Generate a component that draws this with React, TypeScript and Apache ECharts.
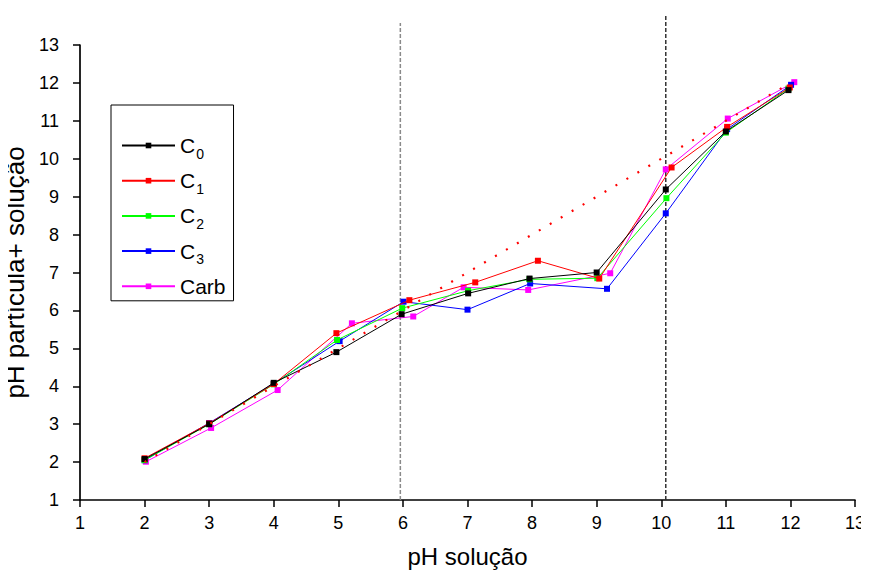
import React, { useEffect, useRef } from "react";
import * as echarts from "echarts";

const xC0 = [2, 3, 4, 4.97, 5.98, 7.01, 7.96, 9.0, 10.07, 11.0, 11.97];
const yC0 = [2.08, 3.0, 4.09, 4.9, 5.9, 6.45, 6.84, 7.0, 9.19, 10.72, 11.81];
const xC1 = [2, 3, 4, 4.97, 6.1, 7.12, 8.09, 9.04, 10.16, 11.02, 11.99];
const yC1 = [2.1, 3.02, 4.06, 5.4, 6.27, 6.74, 7.31, 6.84, 9.77, 10.84, 11.88];
const xC2 = [2, 3, 4, 4.98, 5.99, 7.01, 7.96, 9.01, 10.08, 11.0, 11.97];
const yC2 = [2.05, 3.0, 4.05, 5.22, 6.06, 6.52, 6.82, 6.85, 8.96, 10.69, 11.85];
const xC3 = [2, 3, 4, 5.02, 6.01, 7.0, 7.97, 9.16, 10.07, 11.02, 12.01];
const yC3 = [2.05, 3.03, 4.07, 5.19, 6.23, 6.02, 6.71, 6.57, 8.56, 10.78, 11.95];
const xCarb = [2.02, 3.03, 4.06, 5.21, 6.16, 6.94, 7.94, 9.21, 10.07, 11.03, 12.06];
const yCarb = [2.01, 2.9, 3.9, 5.66, 5.84, 6.61, 6.54, 6.98, 9.72, 11.06, 12.02];

const seriesNames = ["C0", "C1", "C2", "C3", "Carb"];
const seriesColors = ["#000000", "#ff0000", "#00ff00", "#0000ff", "#ff00ff"];
const seriesX = [xC0, xC1, xC2, xC3, xCarb];
const seriesY = [yC0, yC1, yC2, yC3, yCarb];

const identityLine = [
  [2, 2],
  [12, 12],
];

const refLineX = [5.96, 10.07];
const refLineTop = [13.58, 13.77];
const refLineColors = ["#8a8a8a", "#333333"];

const xTicks = { min: 1, max: 13, interval: 1 };
const yTicks = { min: 1, max: 13, interval: 1 };

const FONT = "Liberation Sans, Arial, sans-serif";

export default function App() {
  const ref = useRef<HTMLDivElement>(null);
  useEffect(() => {
    if (!ref.current) return;
    const chart = echarts.init(ref.current, undefined, { renderer: "svg" });
    const series: any[] = seriesNames.map((name, i) => ({
      name,
      type: "line",
      data: seriesX[i].map((x, j) => [x, seriesY[i][j]]),
      symbol: "rect",
      symbolSize: 6,
      color: seriesColors[i],
      lineStyle: { width: 1, color: seriesColors[i] },
      itemStyle: { color: seriesColors[i] },
      z: 3 + (4 - i),
    }));
    series.push({
      name: "identity",
      type: "line",
      data: identityLine,
      symbol: "none",
      lineStyle: { width: 2.2, color: "#ff0000", type: [2, 10.7] },
      z: 10,
    });
    chart.setOption({
      animation: false,
      backgroundColor: "#ffffff",
      grid: { left: 80, right: 14, top: 45, bottom: 71, containLabel: false, outerBoundsMode: "none" },
      legend: {
        data: seriesNames,
        orient: "vertical",
        left: 111,
        top: 105,
        itemWidth: 53,
        itemHeight: 7,
        itemGap: 9.7,
        padding: [30, 8, 4, 10],
        borderColor: "#000",
        borderWidth: 1,
        backgroundColor: "#fff",
        formatter: (name: string) =>
          name === "Carb" ? "{m|Carb}" : `{m|C}{s|${name.slice(1)}}`,
        textStyle: {
          fontFamily: FONT,
          color: "#000",
          rich: {
            m: { fontSize: 21, fontFamily: FONT, color: "#000", lineHeight: 26, verticalAlign: "middle" },
            s: { fontSize: 14, fontFamily: FONT, color: "#000", lineHeight: 26, verticalAlign: "bottom", padding: [0, 0, -2, 1] },
          },
        },
      },
      xAxis: {
        type: "value",
        ...xTicks,
        name: "pH solução",
        nameLocation: "middle",
        nameGap: 44,
        nameTextStyle: { fontSize: 24, fontFamily: FONT, color: "#000" },
        axisLine: { lineStyle: { color: "#000", width: 1.7 } },
        axisTick: { length: 7, lineStyle: { color: "#000", width: 1.5 } },
        axisLabel: { fontSize: 18, fontFamily: FONT, color: "#000", margin: 14 },
        splitLine: { show: false },
      },
      yAxis: {
        type: "value",
        ...yTicks,
        name: "pH partícula+ solução",
        nameLocation: "middle",
        nameGap: 44,
        nameTextStyle: { fontSize: 26, fontFamily: FONT, color: "#000" },
        axisLine: { show: true, lineStyle: { color: "#000", width: 1.7 } },
        axisTick: { show: true, length: 7, lineStyle: { color: "#000", width: 1.5 } },
        axisLabel: { fontSize: 18, fontFamily: FONT, color: "#000", margin: 21 },
        splitLine: { show: false },
      },
      series,
    });
    const graphics = refLineX.map((x, i) => {
      const p0 = chart.convertToPixel({ gridIndex: 0 }, [x, yTicks.min]) as number[];
      const p1 = chart.convertToPixel({ gridIndex: 0 }, [x, refLineTop[i]]) as number[];
      return {
        type: "line",
        z: 1,
        shape: { x1: p0[0], y1: p0[1], x2: p1[0], y2: p1[1] },
        style: { stroke: refLineColors[i], lineWidth: 1.5, lineDash: [4, 2] },
      };
    });
    chart.setOption({ graphic: graphics });
    return () => chart.dispose();
  }, []);
  return <div ref={ref} style={{ width: 869, height: 571, margin: "-8px 0 0 -8px" }} />;
}
